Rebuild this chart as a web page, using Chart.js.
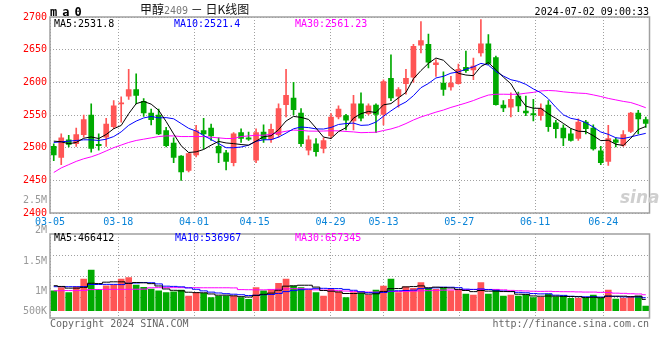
<!DOCTYPE html>
<html>
<head>
<meta charset="utf-8">
<script src="https://cdn.jsdelivr.net/npm/chart.js@4.4.1/dist/chart.umd.min.js"></script>
<style>
html, body { margin: 0; padding: 0; background: #fff; }
#wrap { position: relative; width: 660px; height: 360px; overflow: hidden; font-family: 'DejaVu Sans Mono', monospace; }
#wrap canvas { position: absolute; left: 0; top: 0; }
.t { position: absolute; white-space: nowrap; font-size: 10px; line-height: 12px; }
.vt { position: absolute; right: 613px; font-size: 10px; line-height: 12px; color: #999; text-align: right; }
</style>
</head>
<body>
<div id="wrap">
  <canvas id="priceChart" width="660" height="360"></canvas>
  <canvas id="volChart" width="660" height="360"></canvas>

  <div class="t" style="left:50px;top:6px;font-size:12px;font-weight:bold;letter-spacing:-1.1px;">m a 0</div>
  <div class="t" style="left:140px;top:2px;font-family:'Noto Sans CJK SC';font-size:12px;line-height:14px;color:#111;">甲醇<span style="font-family:'DejaVu Sans Mono';font-size:10px;color:#777;">2409</span> － 日K线图</div>
  <div class="t" style="right:11px;top:6px;color:#000;">2024-07-02 09:00:33</div>

  <div class="t" style="left:54px;top:18px;color:#000;">MA5:2531.8</div>
  <div class="t" style="left:174px;top:18px;color:#0000FF;">MA10:2521.4</div>
  <div class="t" style="left:295px;top:18px;color:#FF00FF;">MA30:2561.23</div>

  <div class="t" style="left:54px;top:232px;color:#000;">MA5:466412</div>
  <div class="t" style="left:175px;top:232px;color:#0000FF;">MA10:536967</div>
  <div class="t" style="left:295px;top:232px;color:#FF00FF;">MA30:657345</div>

  <div class="t" style="left:620px;top:188px;font-family:'DejaVu Sans';font-size:17px;line-height:18px;font-weight:bold;font-style:italic;color:#cfcfcf;">sina</div>

  <div class="t" style="left:50px;top:318px;color:#666;">Copyright 2024 SINA.COM</div>
  <div class="t" style="right:11px;top:318px;color:#666;">http://finance.sina.com.cn</div>
</div>

<script>
// 甲醇2409 daily K-line, 2024-03-05 .. 2024-07-02

const dates = [
    '03-05','03-06','03-07','03-08','03-11','03-12','03-13','03-14','03-15','03-18',
    '03-19','03-20','03-21','03-22','03-25','03-26','03-27','03-28','03-29','04-01',
    '04-02','04-03','04-08','04-09','04-10','04-11','04-12','04-15','04-16','04-17',
    '04-18','04-19','04-22','04-23','04-24','04-25','04-26','04-29','04-30','05-06',
    '05-07','05-08','05-09','05-10','05-13','05-14','05-15','05-16','05-17','05-20',
    '05-21','05-22','05-23','05-24','05-27','05-28','05-29','05-30','05-31','06-03',
    '06-04','06-05','06-06','06-07','06-11','06-12','06-13','06-14','06-17','06-18',
    '06-19','06-20','06-21','06-24','06-25','06-26','06-27','06-28','07-01','07-02'
];
const labelDates = ['03-05','03-18','04-01','04-15','04-29','05-13','05-27','06-11','06-24'];
const priceTicks = [2400, 2450, 2500, 2550, 2600, 2650, 2700];
const volTickLabels = ['2.5M', '2M', '1.5M', '1M', '500K'];

const opens = [
    2502,2485,2512,2506,2520,2550,2505,2516,2532,2567,
    2579,2589,2571,2553,2550,2526,2507,2487,2465,2489,
    2526,2530,2502,2492,2477,2523,2515,2481,2524,2513,
    2520,2566,2576,2553,2496,2506,2499,2518,2547,2549,
    2541,2567,2552,2565,2551,2606,2579,2598,2608,2657,
    2658,2627,2599,2593,2598,2623,2619,2645,2659,2638,
    2565,2562,2579,2556,2552,2549,2565,2538,2530,2521,
    2514,2539,2530,2495,2479,2512,2504,2525,2553,2543
];
const highs = [
    2506,2521,2519,2530,2550,2567,2521,2545,2572,2578,
    2620,2613,2575,2559,2559,2531,2515,2488,2492,2534,
    2545,2536,2515,2496,2523,2529,2524,2529,2535,2536,
    2567,2620,2600,2560,2518,2514,2515,2552,2564,2551,
    2580,2584,2567,2567,2604,2642,2592,2620,2658,2693,
    2674,2635,2616,2609,2628,2648,2637,2696,2673,2640,
    2572,2584,2585,2579,2574,2567,2572,2542,2535,2529,
    2544,2542,2535,2502,2534,2515,2526,2554,2557,2547
];
const lows = [
    2480,2474,2501,2502,2516,2493,2496,2502,2529,2539,
    2574,2567,2548,2535,2520,2501,2477,2450,2463,2486,
    2498,2511,2477,2466,2472,2508,2511,2477,2508,2508,
    2516,2547,2550,2502,2489,2487,2492,2514,2544,2527,
    2527,2541,2550,2523,2535,2572,2562,2582,2600,2645,
    2622,2609,2580,2588,2597,2615,2604,2640,2627,2565,
    2555,2547,2555,2549,2541,2542,2525,2515,2503,2510,
    2511,2521,2496,2474,2473,2501,2502,2523,2521,2531
];
const closes = [
    2489,2515,2505,2520,2543,2499,2503,2536,2564,2568,
    2589,2580,2553,2543,2521,2503,2485,2463,2491,2526,
    2521,2518,2492,2479,2521,2514,2513,2523,2513,2528,
    2560,2580,2558,2506,2512,2494,2511,2547,2559,2542,
    2567,2545,2564,2551,2601,2576,2589,2606,2655,2664,
    2631,2630,2589,2599,2620,2618,2625,2659,2629,2566,
    2561,2574,2564,2553,2550,2560,2532,2529,2515,2511,
    2539,2529,2498,2477,2514,2508,2520,2553,2544,2537
];
const volumes = [
    824000, 948000, 742000, 989000,1306000,1677000, 878000,1030000,1059000,1306000,
   1360000,1059000, 960000, 894000, 824000, 742000, 783000, 853000, 606000, 742000,
    713000, 536000, 606000, 606000, 606000, 536000, 466000, 948000, 824000, 853000,
   1125000,1306000,1018000, 948000, 853000, 742000, 606000, 878000, 783000, 536000,
    742000, 713000, 647000, 853000,1018000,1306000, 742000, 989000, 919000,1154000,
    919000, 878000, 919000, 824000, 853000, 688000, 647000,1154000, 688000, 853000,
    606000, 647000, 606000, 647000, 536000, 548000, 688000, 577000, 606000, 507000,
    507000, 507000, 647000, 507000, 853000, 482000, 507000, 548000, 606000, 194000
];

// MA values before a full window exists (they use days before 03-05)
const ma5Head  = [2510, 2509, 2506, 2508];
const ma10Head = [2508, 2509, 2510, 2511, 2512, 2512, 2511, 2513, 2517];
const ma30Head = [
    2462,2469,2474,2479,2483,2486,2490,2495,2500,2504,
    2508,2511,2513,2515,2517,2518,2518,2517,2517,2517,
    2517,2516,2515,2514,2514,2517,2518,2519,2519
];
const volMa5Head  = [1030000, 1000000, 930000, 930000];
const volMa10Head = [990000, 990000, 990000, 990000, 995000, 1080000, 1080000, 1085000, 1085000];
const volMa30Head = [
    820000, 825000, 830000, 830000, 835000, 870000, 875000, 880000, 880000, 880000,
    880000, 885000, 890000, 945000, 950000, 950000, 950000, 950000, 950000, 950000,
    945000, 945000, 945000, 945000, 940000, 870000, 865000, 860000, 860000
];

const FONT = { family: "'DejaVu Sans Mono', monospace", size: 10 };
const UP = '#FF5555', DOWN = '#00AA00';
const GRID = '#a0a0a0';
const GRID_MAX = 79.09;            // sina's date grid runs a bit wider than the candles
const VOL_MIN = -300000, VOL_MAX = 3160000;

function movingAvg(src, n, head) {
    return src.map((_, i) => {
        if (i < n - 1) return head[i];
        let s = 0;
        for (let k = i - n + 1; k <= i; k++) s += src[k];
        return s / n;
    });
}

const labelIdx = labelDates.map(d => dates.indexOf(d));
const candleColor = closes.map((c, i) => c >= opens[i] ? UP : DOWN);

const frame = {
    id: 'frame',
    afterDraw(chart) {
        const a = chart.chartArea, ctx = chart.ctx;
        ctx.save();
        ctx.strokeStyle = '#a0a0a0';
        ctx.lineWidth = 1.5;
        ctx.strokeRect(a.left, a.top, a.right - a.left, a.bottom - a.top);
        ctx.restore();
    }
};

function dateAxis(showLabels) {
    return {
        type: 'linear', position: 'bottom', min: 0, max: GRID_MAX, offset: false,
        afterBuildTicks: s => { s.ticks = labelIdx.map(v => ({ value: v })); },
        afterFit: s => { s.height = showLabels ? 22 : 0; },
        grid: { color: GRID, drawTicks: false, offset: false },
        border: { display: false, dash: [1, 2] },
        ticks: { display: showLabels, color: '#0A84D8', font: FONT, padding: 3, maxRotation: 0, autoSkip: false, callback: v => dates[v] }
    };
}

const maLine = (data, color, extra) => Object.assign({
    type: 'line', data, borderColor: color, borderWidth: 1, pointRadius: 0, tension: 0, order: 0, xAxisID: 'x'
}, extra || {});

const common = {
    responsive: false, animation: false, events: [],
    plugins: { legend: { display: false }, tooltip: { enabled: false } }
};

// Price panel
new Chart(document.getElementById('priceChart'), {
    type: 'bar',
    data: {
        labels: dates,
        datasets: [
            { data: dates.map((_, i) => [lows[i], highs[i]]), backgroundColor: candleColor, barThickness: 1, grouped: false, order: 3, xAxisID: 'x' },
            { data: dates.map((_, i) => [opens[i], closes[i]]), backgroundColor: candleColor, barThickness: 5, minBarLength: 1, grouped: false, order: 2, xAxisID: 'x' },
            maLine(movingAvg(closes, 5, ma5Head), '#000000'),
            maLine(movingAvg(closes, 10, ma10Head), '#0000FF'),
            maLine(movingAvg(closes, 30, ma30Head), '#FF00FF')
        ]
    },
    options: Object.assign({}, common, {
        layout: { padding: { top: 17, right: 10.5, bottom: 125, left: 0 } },
        scales: {
            x: { display: false, offset: true },
            xg: dateAxis(true),
            y: {
                min: 2400, max: 2700,
                afterBuildTicks: s => { s.ticks = priceTicks.map(v => ({ value: v })); },
                afterFit: s => { s.width = 50; },
                grid: { color: GRID, drawTicks: false },
                border: { display: false, dash: [1, 2] },
                ticks: { color: '#FF0000', font: FONT, padding: 3, callback: v => String(v) }
            }
        }
    }),
    plugins: [frame]
});

// Volume panel
new Chart(document.getElementById('volChart'), {
    type: 'bar',
    data: {
        labels: dates,
        datasets: [
            { data: volumes, backgroundColor: candleColor, barThickness: 6, grouped: false, order: 2, xAxisID: 'x' },
            maLine(movingAvg(volumes, 5, volMa5Head), '#000000', { stepped: 'middle' }),
            maLine(movingAvg(volumes, 10, volMa10Head), '#0000FF', { stepped: 'middle' }),
            maLine(movingAvg(volumes, 30, volMa30Head), '#FF00FF', { stepped: 'middle' })
        ]
    },
    options: Object.assign({}, common, {
        layout: { padding: { top: 234, right: 10.5, bottom: 42, left: 0 } },
        scales: {
            x: { display: false, offset: true },
            xg: dateAxis(false),
            y: {
                min: VOL_MIN, max: VOL_MAX,
                afterBuildTicks: s => { s.ticks = [1, 2, 3].map(k => ({ value: VOL_MIN + k * (VOL_MAX - VOL_MIN) / 4 })); },
                afterFit: s => { s.width = 50; },
                grid: { color: GRID, drawTicks: false },
                border: { display: false, dash: [1, 2] },
                ticks: { display: false }
            }
        }
    }),
    plugins: [frame]
});

// volume axis captions sit where sina prints them (not on the bar scale)
const volLabelY = [200, 230, 260.5, 290.5, 311];
const wrap = document.getElementById('wrap');
volTickLabels.forEach((txt, k) => {
    const d = document.createElement('div');
    d.className = 'vt';
    d.style.top = (volLabelY[k] - 6) + 'px';
    d.textContent = txt;
    wrap.appendChild(d);
});
</script>
</body>
</html>
